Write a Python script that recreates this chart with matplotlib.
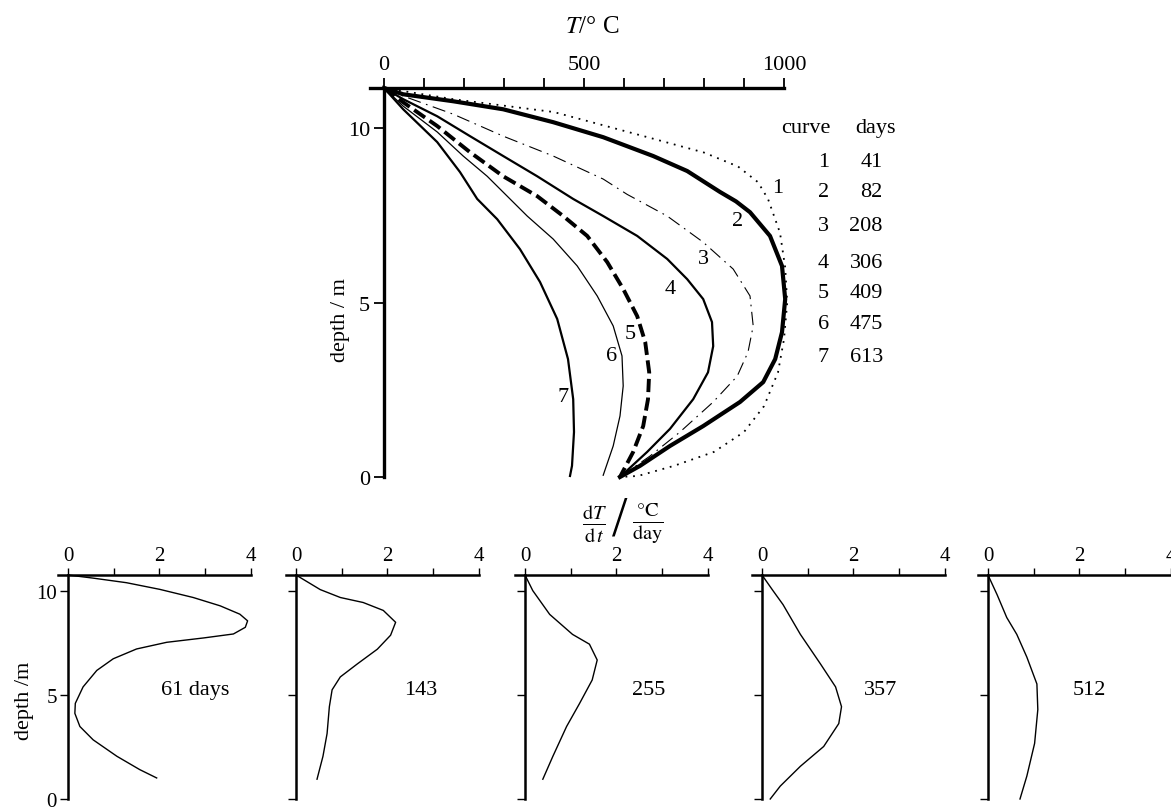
import matplotlib.pyplot as plt
from matplotlib.ticker import FixedLocator, NullFormatter

plt.rcParams['font.family'] = ['Liberation Serif', 'DejaVu Serif']
plt.rcParams['mathtext.fontset'] = 'stix'
plt.rcParams['lines.solid_joinstyle'] = 'round'
plt.rcParams['lines.dash_joinstyle'] = 'round'

# top panel: temperature profiles (T in deg C, depth in m)
t1 = [0, 173, 425, 675, 800, 885, 935, 960, 990, 1003, 1008, 1000, 985, 950, 900, 825, 725, 635, 590]
d1 = [11.15, 10.83, 10.46, 9.69, 9.3, 8.9, 8.45, 7.97, 7.0, 6.0, 5.0, 3.95, 3.0, 2.03, 1.29, 0.72, 0.32, 0.03, 0]
t2 = [0, 48, 173, 298, 423, 548, 673, 758, 840, 880, 915, 965, 995, 1003, 995, 978, 948, 890, 798, 715, 640, 590]
d2 = [11.15, 10.97, 10.77, 10.54, 10.17, 9.74, 9.2, 8.77, 8.17, 7.9, 7.59, 6.91, 6.05, 5.1, 4.15, 3.38, 2.72, 2.15, 1.46, 0.89, 0.32, 0]
t3 = [0, 48, 173, 298, 423, 548, 608, 708, 798, 873, 915, 923, 910, 883, 823, 740, 665, 590]
d3 = [11.15, 10.92, 10.4, 9.77, 9.2, 8.54, 8.1, 7.48, 6.73, 5.96, 5.19, 4.33, 3.58, 2.89, 2.15, 1.29, 0.6, 0]
t4 = [0, 48, 133, 215, 298, 383, 473, 548, 633, 708, 758, 798, 820, 823, 810, 773, 715, 658, 590]
d4 = [11.15, 10.83, 10.34, 9.77, 9.2, 8.62, 7.97, 7.48, 6.91, 6.25, 5.67, 5.1, 4.44, 3.75, 3.0, 2.23, 1.38, 0.72, 0]
t5 = [0, 48, 133, 215, 298, 383, 448, 508, 558, 598, 633, 653, 663, 660, 648, 623, 590]
d5 = [11.15, 10.74, 10.06, 9.31, 8.62, 8.05, 7.48, 6.91, 6.16, 5.39, 4.61, 3.87, 3.0, 2.23, 1.46, 0.72, 0]
t6 = [0, 48, 133, 198, 258, 308, 358, 423, 483, 533, 573, 595, 598, 590, 573, 548]
d6 = [11.15, 10.63, 9.89, 9.2, 8.62, 8.05, 7.48, 6.82, 6.05, 5.19, 4.33, 3.47, 2.61, 1.75, 0.89, 0.05]
t7 = [0, 48, 133, 190, 233, 283, 340, 390, 433, 460, 473, 475, 470, 465]
d7 = [11.15, 10.54, 9.6, 8.74, 7.97, 7.39, 6.53, 5.59, 4.53, 3.38, 2.23, 1.29, 0.32, 0.03]

curve_days = [41, 82, 208, 306, 409, 475, 613]
# where the curve numbers sit (T, depth)
label_t = [983, 883, 798, 715, 615, 570, 448]
label_d = [8.31, 7.34, 6.25, 5.39, 4.1, 3.47, 2.32]

# bottom panels: heating rate dT/dt (deg C/day) against depth
r61 = [0, 0.55, 1.28, 2.01, 2.74, 3.33, 3.76, 3.93, 3.88, 3.62, 2.97, 2.16, 1.5, 0.99, 0.63, 0.33, 0.16, 0.15, 0.26, 0.55, 1.07, 1.57, 1.94]
z61 = [10.75, 10.6, 10.38, 10.06, 9.67, 9.27, 8.87, 8.55, 8.24, 7.92, 7.73, 7.52, 7.2, 6.73, 6.17, 5.38, 4.59, 4.11, 3.48, 2.84, 2.05, 1.41, 1.01]
r143 = [0, 0.53, 0.97, 1.47, 1.91, 2.18, 2.07, 1.78, 1.34, 0.97, 0.79, 0.73, 0.68, 0.59, 0.46]
z143 = [10.75, 10.05, 9.67, 9.43, 9.05, 8.48, 7.86, 7.19, 6.48, 5.86, 5.24, 4.43, 3.14, 2.05, 0.95]
r255 = [0, 0.17, 0.54, 1.04, 1.41, 1.58, 1.47, 1.19, 0.91, 0.61, 0.39]
z255 = [10.75, 10.0, 8.86, 7.9, 7.43, 6.67, 5.71, 4.57, 3.48, 2.05, 0.95]
r357 = [0, 0.24, 0.46, 0.84, 1.28, 1.61, 1.74, 1.68, 1.35, 0.84, 0.4, 0.18]
z357 = [10.75, 10.0, 9.33, 7.9, 6.48, 5.38, 4.43, 3.62, 2.52, 1.57, 0.62, 0]
r512 = [0, 0.2, 0.41, 0.63, 0.85, 1.07, 1.09, 1.02, 0.85, 0.7]
z512 = [10.75, 9.8, 8.71, 7.9, 6.81, 5.52, 4.29, 2.67, 1.1, 0]

rate_x = [r61, r143, r255, r357, r512]
rate_z = [z61, z143, z255, z357, z512]
rate_labels = ['61 days', '143', '255', '357', '512']
rate_label_x = [2.78, 2.73, 2.7, 2.6, 2.22]

W, H = 1171, 812
fig = plt.figure(figsize=(W / 100, H / 100), dpi=100)


def axes_px(left, top, right, bottom):
    return fig.add_axes([left / W, 1 - bottom / H, (right - left) / W, (bottom - top) / H])


# ---- top panel ----
ax = axes_px(370, 89, 784, 478)
ax.set_xlim(-35, 1000)
ax.set_ylim(0, 11.15)
ax.patch.set_visible(False)
for s in ['right', 'bottom']:
    ax.spines[s].set_visible(False)
ax.spines['left'].set_position(('data', 0))
ax.spines['left'].set_linewidth(2.4)
ax.spines['top'].set_linewidth(2.4)
ax.xaxis.tick_top()
ax.set_xticks([0, 500, 1000])
ax.set_xticklabels(['0', '500', '1000'])
ax.xaxis.set_minor_locator(FixedLocator(range(0, 1001, 100)))
ax.xaxis.set_minor_formatter(NullFormatter())
ax.tick_params(axis='x', which='both', direction='out', length=7, width=1.3, pad=3, labelsize=16)
ax.set_yticks([0, 5, 10])
ax.tick_params(axis='y', direction='out', length=7, width=1.3, pad=3, labelsize=16)

ax.plot(t1, d1, color='black', lw=1.3, ls=(0, (1, 3.2)), clip_on=False)
ax.plot(t2, d2, color='black', lw=3.0, clip_on=False)
ax.plot(t3, d3, color='black', lw=0.8, ls=(0, (12, 5, 1.5, 5)), clip_on=False)
ax.plot(t4, d4, color='black', lw=1.6, clip_on=False)
ax.plot(t5, d5, color='black', lw=2.8, ls=(0, (3.4, 1.4)), clip_on=False)
ax.plot(t6, d6, color='black', lw=0.9, clip_on=False)
ax.plot(t7, d7, color='black', lw=1.6, clip_on=False)

for i in range(7):
    ax.text(label_t[i], label_d[i], str(i + 1), fontsize=16, ha='center', va='center')

# small table of curve numbers and days
ax.text(1055, 10.03, 'curve', fontsize=16, ha='center', va='center', clip_on=False)
ax.text(1228, 10.03, 'days', fontsize=16, ha='center', va='center', clip_on=False)
row_d = [9.03, 8.17, 7.22, 6.16, 5.30, 4.41, 3.44]
for i, days in enumerate(curve_days):
    ax.text(1098, row_d[i], str(i + 1), fontsize=16, ha='center', va='center', clip_on=False)
    ax.text(1247, row_d[i], str(days), fontsize=16, ha='right', va='center', clip_on=False)

fig.text(592 / W, 1 - 27 / H, r'$T$/° C', fontsize=18, ha='center', va='center')
fig.text(340 / W, 1 - 320 / H, 'depth / m', fontsize=16, rotation=90, ha='center', va='center')

# ---- bottom panels ----
x0_px = [68, 296, 525, 762, 988]
scale = 45.7
for k in range(5):
    bx = axes_px(x0_px[k] - 0.22 * scale, 576, x0_px[k] + 4 * scale, 800)
    bx.set_xlim(-0.22, 4)
    bx.set_ylim(0, 10.75)
    bx.patch.set_visible(False)
    for s in ['right', 'bottom']:
        bx.spines[s].set_visible(False)
    bx.spines['left'].set_position(('data', 0))
    bx.spines['left'].set_linewidth(1.8)
    bx.spines['top'].set_linewidth(1.8)
    bx.xaxis.tick_top()
    bx.set_xticks([0, 2, 4])
    bx.xaxis.set_minor_locator(FixedLocator([1, 3]))
    bx.xaxis.set_minor_formatter(NullFormatter())
    bx.tick_params(axis='x', which='both', direction='out', length=5, width=1.0, pad=2, labelsize=15)
    bx.set_yticks([0, 5, 10])
    bx.tick_params(axis='y', direction='out', length=6, width=1.0, pad=2, labelsize=15)
    if k > 0:
        bx.set_yticklabels([])
    bx.plot(rate_x[k], rate_z[k], color='black', lw=1.0, clip_on=False)
    bx.text(rate_label_x[k], 5.24, rate_labels[k], fontsize=16, ha='center', va='center')

fig.text(25 / W, 1 - 701 / H, 'depth /m', fontsize=16, rotation=90, ha='center', va='center')

# dT/dt axis title, two fractions joined by a tall slash
fig.text(595 / W, 1 - 524 / H, r'$\frac{\mathrm{d}T}{\mathrm{d}\,t}$', fontsize=21, ha='center', va='center')
fig.text(620 / W, 1 - 522 / H, '/', fontsize=40, ha='center', va='center')
fig.text(648 / W, 1 - 524 / H, r'$\frac{°\mathrm{C}}{\mathrm{day}}$', fontsize=21, ha='center', va='center')

fig.savefig('out.png', dpi=100)
